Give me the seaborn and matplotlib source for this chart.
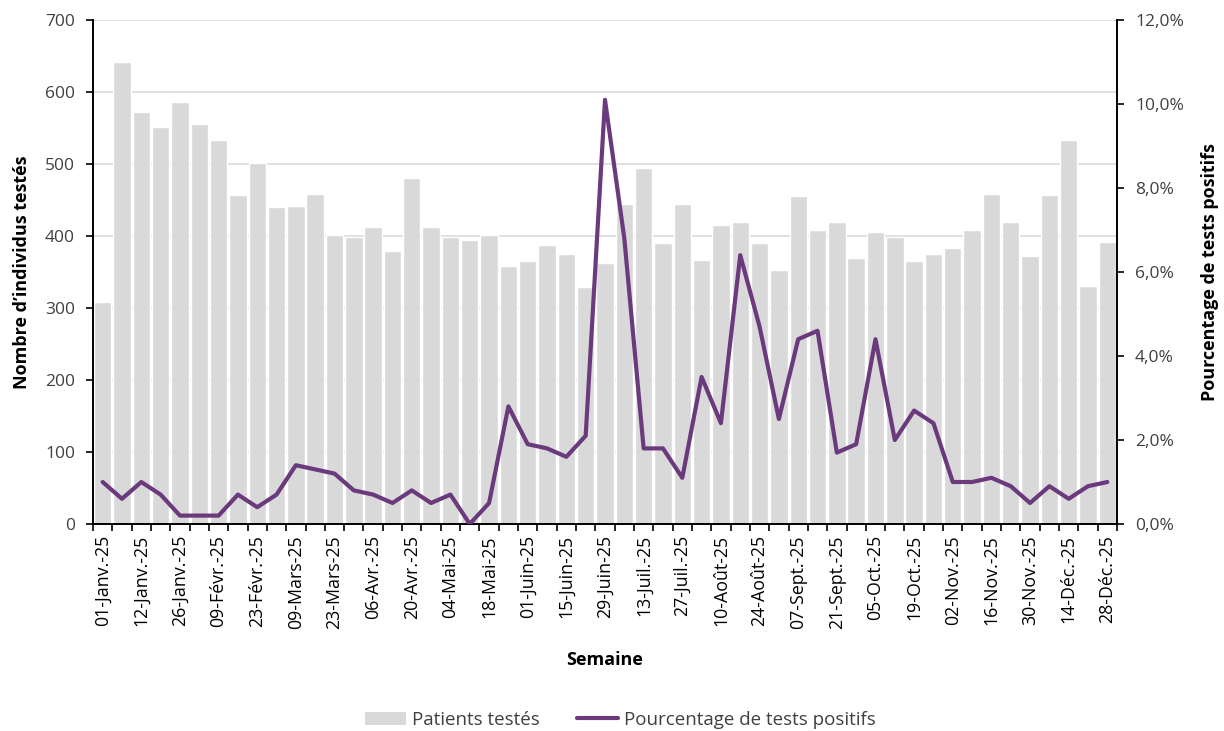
import numpy as np
import pandas as pd
import matplotlib
matplotlib.use("Agg")
import matplotlib.pyplot as plt
from matplotlib.ticker import FuncFormatter, MultipleLocator
from matplotlib.patches import Patch
from matplotlib.lines import Line2D
import seaborn as sns

# Weekly data (week start dates)
weeks = [
    "01-Janv.-25", "05-Janv.-25", "12-Janv.-25", "19-Janv.-25", "26-Janv.-25",
    "02-Févr.-25", "09-Févr.-25", "16-Févr.-25", "23-Févr.-25", "02-Mars-25",
    "09-Mars-25", "16-Mars-25", "23-Mars-25", "30-Mars-25", "06-Avr.-25",
    "13-Avr.-25", "20-Avr.-25", "27-Avr.-25", "04-Mai-25", "11-Mai-25",
    "18-Mai-25", "25-Mai-25", "01-Juin-25", "08-Juin-25", "15-Juin-25",
    "22-Juin-25", "29-Juin-25", "06-Juil.-25", "13-Juil.-25", "20-Juil.-25",
    "27-Juil.-25", "03-Août-25", "10-Août-25", "17-Août-25", "24-Août-25",
    "31-Août-25", "07-Sept.-25", "14-Sept.-25", "21-Sept.-25", "28-Sept.-25",
    "05-Oct.-25", "12-Oct.-25", "19-Oct.-25", "26-Oct.-25", "02-Nov.-25",
    "09-Nov.-25", "16-Nov.-25", "23-Nov.-25", "30-Nov.-25", "07-Déc.-25",
    "14-Déc.-25", "21-Déc.-25", "28-Déc.-25",
]

patients = [
    309, 641, 572, 551, 586, 556, 534, 457, 502, 440,
    441, 459, 402, 398, 413, 379, 481, 413, 399, 395,
    402, 358, 365, 388, 375, 329, 363, 444, 494, 390,
    444, 367, 415, 419, 390, 353, 456, 409, 419, 369,
    405, 398, 365, 375, 383, 408, 459, 420, 372, 457,
    533, 331, 392,
]

pct_positive = [
    1.0, 0.6, 1.0, 0.7, 0.2, 0.2, 0.2, 0.7, 0.4, 0.7,
    1.4, 1.3, 1.2, 0.8, 0.7, 0.5, 0.8, 0.5, 0.7, 0.0,
    0.5, 2.8, 1.9, 1.8, 1.6, 2.1, 10.1, 6.8, 1.8, 1.8,
    1.1, 3.5, 2.4, 6.4, 4.7, 2.5, 4.4, 4.6, 1.7, 1.9,
    4.4, 2.0, 2.7, 2.4, 1.0, 1.0, 1.1, 0.9, 0.5, 0.9,
    0.6, 0.9, 1.0,
]

bar_color = "#D9D9D9"
line_color = "#6B3A7D"
text_color = "#404040"

df = pd.DataFrame({
    "semaine": weeks,
    "idx": np.arange(len(weeks)),
    "patients": patients,
    "pct": pct_positive,
})

sns.set_theme(style="white")
plt.rcParams["font.family"] = ["Open Sans", "DejaVu Sans"]

fig = plt.figure(figsize=(12.24, 7.31), dpi=100)
ax = fig.add_axes([93 / 1224, 1 - 524 / 731, (1117 - 93) / 1224, (524 - 20) / 731])

sns.barplot(data=df, x="semaine", y="patients", color=bar_color, width=0.9,
            saturation=1, ax=ax, zorder=2)

ax.set_xlim(-0.5, len(weeks) - 0.5)
ax.set_ylim(0, 700)
ax.yaxis.set_major_locator(MultipleLocator(100))
ax.grid(axis="y", color="#D9D9D9", linewidth=1.2, zorder=0)
ax.set_axisbelow(True)

# x ticks: marks at category boundaries, labels every other week
ax.set_xticks(np.arange(-0.5, len(weeks), 1.0), minor=True)
ax.set_xticks(np.arange(0, len(weeks), 2))
ax.set_xticklabels(weeks[::2], rotation=90, fontsize=12.8, color="#000000")
ax.tick_params(axis="x", which="major", length=0, pad=8)
ax.tick_params(axis="x", which="minor", length=5, width=1.2, color="black",
               direction="out", bottom=True)
ax.tick_params(axis="y", length=5, width=1.2, color="black", direction="out",
               left=True, labelsize=12.5, labelcolor=text_color, pad=8)

for s in ["top", "right"]:
    ax.spines[s].set_visible(False)
for s in ["left", "bottom"]:
    ax.spines[s].set_color("black")
    ax.spines[s].set_linewidth(1.4)

ax.set_xlabel("Semaine", fontsize=13, fontweight="bold", color="black", labelpad=16)
ax.set_ylabel("Nombre d\u2019individus testés", fontsize=13, fontweight="bold",
              color="black", labelpad=10)

ax2 = ax.twinx()
sns.lineplot(data=df, x="idx", y="pct", color=line_color, linewidth=3.0,
             ax=ax2, zorder=3, solid_capstyle="round", solid_joinstyle="round")
ax2.set_xlim(-0.5, len(weeks) - 0.5)
ax2.set_ylim(0, 12)
ax2.yaxis.set_major_locator(MultipleLocator(2))
ax2.yaxis.set_major_formatter(FuncFormatter(lambda v, p: f"{v:.1f}%".replace(".", ",")))
ax2.tick_params(axis="y", length=5, width=1.2, color="black", direction="out",
                right=True, labelsize=12.5, labelcolor=text_color, pad=8)
ax2.grid(False)
for s in ["top", "left", "bottom"]:
    ax2.spines[s].set_visible(False)
ax2.spines["right"].set_color("black")
ax2.spines["right"].set_linewidth(1.4)
ax2.set_xlabel("")
ax2.set_ylabel("Pourcentage de tests positifs", fontsize=13, fontweight="bold",
               color="black", labelpad=12)

handles = [
    Patch(facecolor=bar_color, edgecolor="none", label="Patients testés"),
    Line2D([0], [0], color=line_color, linewidth=3.0, label="Pourcentage de tests positifs"),
]
fig.legend(handles=handles, loc="center", bbox_to_anchor=(620 / 1224, 1 - 720 / 731),
           ncol=2, frameon=False, fontsize=13.5, handlelength=2.2, columnspacing=2.0,
           handletextpad=0.3, labelcolor=text_color)

fig.savefig("out.png", dpi=100, facecolor="white")
